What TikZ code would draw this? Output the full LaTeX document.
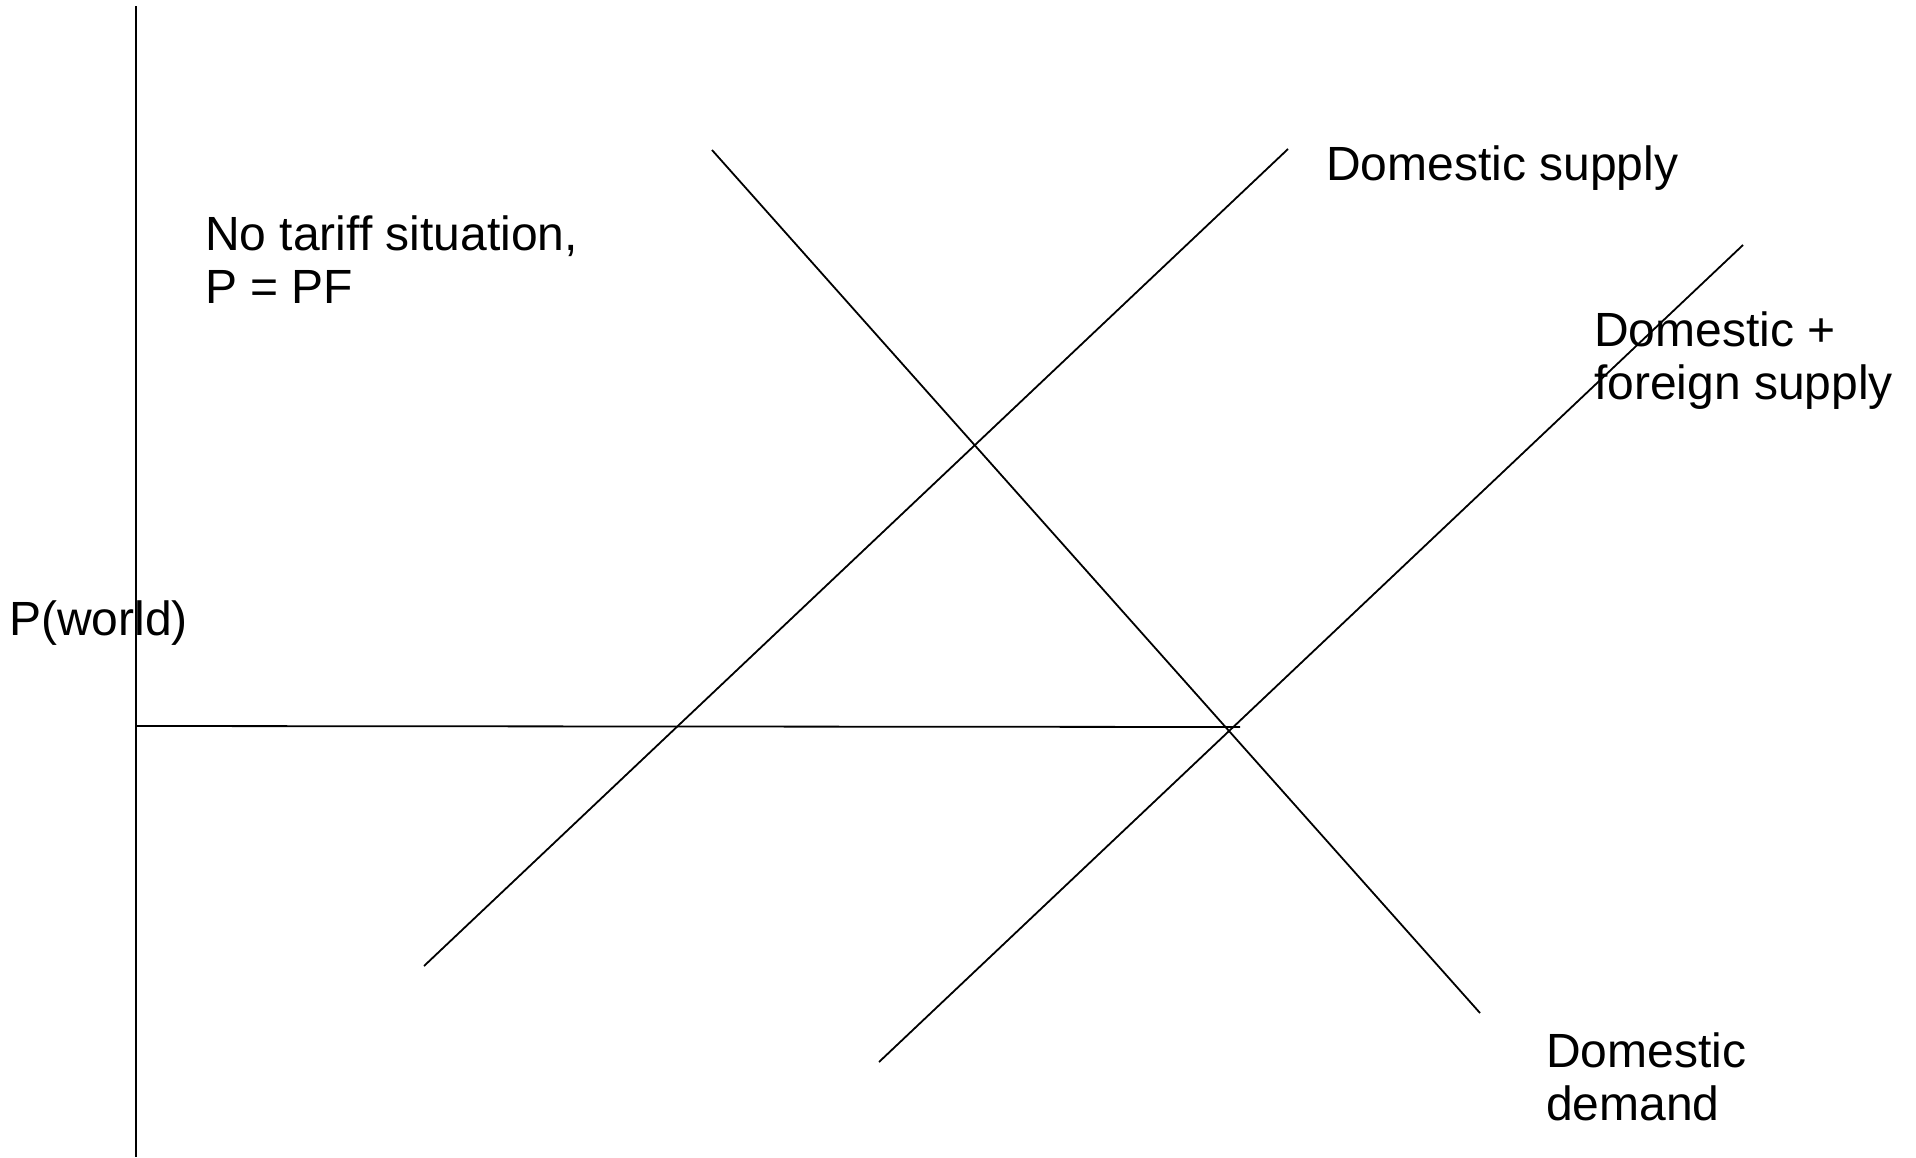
\documentclass[tikz,border=0pt]{standalone}
\usepackage{fontspec}
\setmainfont{Liberation Sans}
\usepackage{tikz}
\usetikzlibrary{positioning}
\tikzset{
  curve/.style={line width=1.8pt, color=black},
  axis/.style={line width=1.8pt, color=black},
  lbl/.style={anchor=base west, inner sep=0pt, align=left,
    font=\fontsize{48}{53}\selectfont}
}

\begin{document}
\begin{tikzpicture}[x=1pt, y=-1pt]
  \useasboundingbox (0,0) rectangle (1916,1157);

  % Axes
  \coordinate (ytop) at (136,6);
  \coordinate (ybot) at (136,1157);
  \draw[axis] (ytop) -- (ybot);
  \coordinate (pw0) at (136,726);
  \coordinate (pw1) at (1240,727);
  \draw[axis] (pw0) -- (pw1);

  % Curves
  \coordinate (dd0) at (712,150);
  \coordinate (dd1) at (1480,1013);
  \draw[curve] (dd0) -- (dd1);
  \coordinate (ds0) at (424,966);
  \coordinate (ds1) at (1288,149);
  \draw[curve] (ds0) -- (ds1);
  \coordinate (fs0) at (879,1062);
  \coordinate (fs1) at (1743,245);
  \draw[curve] (fs0) -- (fs1);

  % Labels (base = last line)
  \node[lbl] (dslbl) at (1326,180) {Domestic supply};
  \node[lbl] (notariff) at (205,303) {No tariff situation,\\P = PF};
  \node[lbl] (fslbl) at (1594,399) {Domestic +\\foreign supply};
  \node[lbl] (pworld) at (9,635) {P(world)};
  \node[lbl] (ddlbl) at (1546,1120) {Domestic\\demand};
\end{tikzpicture}
\end{document}
